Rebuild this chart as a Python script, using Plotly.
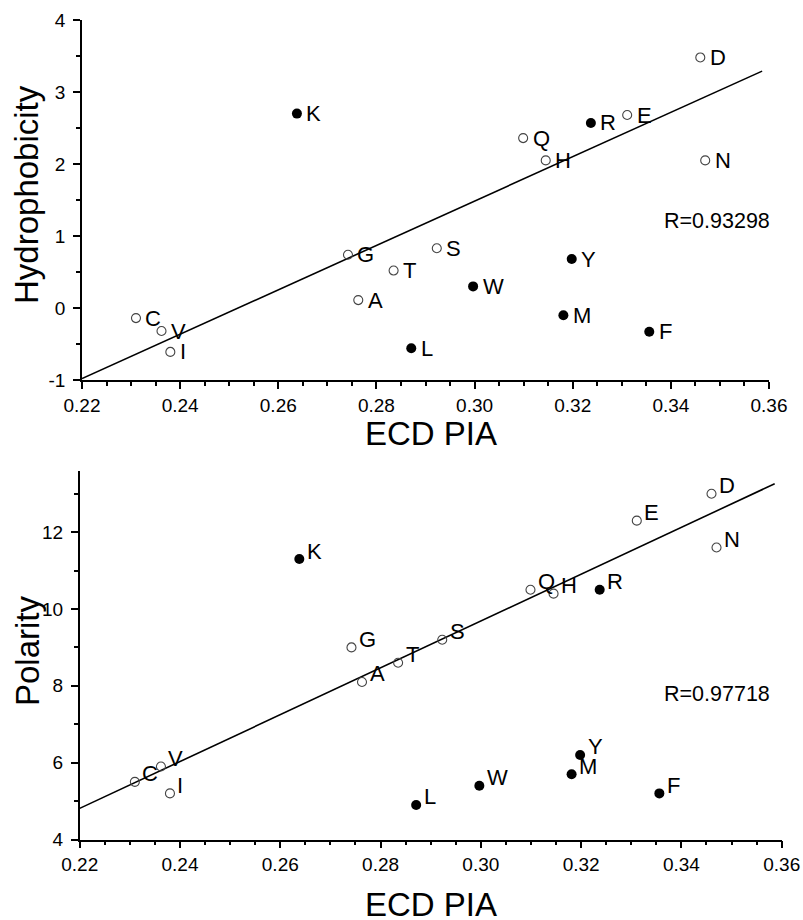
import plotly.graph_objects as go

# Amino acids and their ECD PIA values
residues = ["A", "R", "N", "D", "C", "Q", "E", "G", "H", "I",
            "L", "K", "M", "F", "S", "T", "W", "Y", "V"]
ecd_pia = [0.2763, 0.3237, 0.3470, 0.3460, 0.2310, 0.3099, 0.3311, 0.2742, 0.3145, 0.2380,
           0.2871, 0.2638, 0.3181, 0.3356, 0.2923, 0.2835, 0.2997, 0.3198, 0.2362]
hydrophobicity = [0.11, 2.57, 2.05, 3.48, -0.14, 2.36, 2.68, 0.74, 2.05, -0.61,
                  -0.56, 2.70, -0.10, -0.33, 0.83, 0.52, 0.30, 0.68, -0.32]
polarity = [8.1, 10.5, 11.6, 13.0, 5.5, 10.5, 12.3, 9.0, 10.4, 5.2,
            4.9, 11.3, 5.7, 5.2, 9.2, 8.6, 5.4, 6.2, 5.9]
filled_residues = ["R", "L", "K", "M", "F", "W", "Y"]

# Linear fits (end points)
fit_x = [0.22, 0.3586]
hydro_fit_y = [-0.98, 3.29]
polar_fit_y = [4.81, 13.26]
hydro_r = "R=0.93298"
polar_r = "R=0.97718"

x_ticks = [0.22, 0.24, 0.26, 0.28, 0.30, 0.32, 0.34, 0.36]
x_ticktext = ["0.22", "0.24", "0.26", "0.28", "0.30", "0.32", "0.34", "0.36"]
hydro_ticks = [-1, 0, 1, 2, 3, 4]
hydro_ticktext = ["-1", "0", "1", "2", "3", "4"]
polar_ticks = [4, 6, 8, 10, 12]
polar_ticktext = ["4", "6", "8", "10", "12"]

FONT = "Arial, Liberation Sans, sans-serif"
W, H = 803, 920

fig = go.Figure()

open_idx = [i for i, r in enumerate(residues) if r not in filled_residues]
fill_idx = [i for i, r in enumerate(residues) if r in filled_residues]


def add_panel(yvals, fit_y, xa, ya):
    fig.add_trace(go.Scatter(x=fit_x, y=fit_y, mode="lines",
                             line=dict(color="black", width=1.6),
                             xaxis=xa, yaxis=ya, showlegend=False, hoverinfo="skip"))
    fig.add_trace(go.Scatter(x=[ecd_pia[i] for i in open_idx], y=[yvals[i] for i in open_idx],
                             mode="markers",
                             marker=dict(symbol="circle-open", size=9, color="#444444",
                                         line=dict(width=1.1, color="#444444")),
                             xaxis=xa, yaxis=ya, showlegend=False))
    fig.add_trace(go.Scatter(x=[ecd_pia[i] for i in fill_idx], y=[yvals[i] for i in fill_idx],
                             mode="markers",
                             marker=dict(symbol="circle", size=10, color="black"),
                             xaxis=xa, yaxis=ya, showlegend=False))


add_panel(hydrophobicity, hydro_fit_y, "x", "y")
add_panel(polarity, polar_fit_y, "x2", "y2")

label_font = dict(family=FONT, size=22, color="black")
annotations = []
# residue labels: right of the marker on top panel, up-right on bottom panel
for r, xv, yv in zip(residues, ecd_pia, hydrophobicity):
    annotations.append(dict(x=xv, y=yv, xref="x", yref="y", text=r, showarrow=False,
                            xanchor="left", yanchor="middle", xshift=7.5, yshift=0,
                            font=label_font))
for r, xv, yv in zip(residues, ecd_pia, polarity):
    annotations.append(dict(x=xv, y=yv, xref="x2", yref="y2", text=r, showarrow=False,
                            xanchor="left", yanchor="middle", xshift=5.5, yshift=8,
                            font=label_font))

r_font = dict(family=FONT, size=21.5, color="black")
annotations.append(dict(x=0.3494, y=1.21, xref="x", yref="y", text=hydro_r, showarrow=False,
                        xanchor="center", yanchor="middle", font=r_font))
annotations.append(dict(x=0.3471, y=7.79, xref="x2", yref="y2", text=polar_r, showarrow=False,
                        xanchor="center", yanchor="middle", font=r_font))

# axis titles
title_font = dict(family=FONT, size=33, color="black")
annotations.append(dict(x=431 / W, y=1 - 433 / H, xref="paper", yref="paper", text="ECD PIA",
                        showarrow=False, xanchor="center", yanchor="middle", font=title_font))
annotations.append(dict(x=431 / W, y=1 - 904 / H, xref="paper", yref="paper", text="ECD PIA",
                        showarrow=False, xanchor="center", yanchor="middle", font=title_font))
annotations.append(dict(x=27 / W, y=1 - 195 / H, xref="paper", yref="paper", text="Hydrophobicity",
                        showarrow=False, textangle=-90, xanchor="center", yanchor="middle",
                        font=title_font))
annotations.append(dict(x=27 / W, y=1 - 651 / H, xref="paper", yref="paper", text="Polarity",
                        showarrow=False, textangle=-90, xanchor="center", yanchor="middle",
                        font=title_font))

axis_style = dict(showline=True, linecolor="black", linewidth=1.6, ticks="outside",
                  ticklen=7, tickwidth=1.5, tickcolor="black", showgrid=False,
                  zeroline=False, mirror=False, automargin=False,
                  tickfont=dict(family=FONT, size=19, color="black"))


def minor(t0, dt):
    return dict(ticks="outside", ticklen=4, tickwidth=1.5, tickcolor="black",
                tick0=t0, dtick=dt, showgrid=False)


fig.update_layout(
    template="none",
    width=W, height=H,
    margin=dict(l=0, r=0, t=0, b=0, pad=0, autoexpand=False),
    paper_bgcolor="white", plot_bgcolor="white",
    showlegend=False,
    annotations=annotations,
    xaxis=dict(domain=[82 / W, 769 / W], range=[0.22, 0.36], anchor="y",
               tickvals=x_ticks, ticktext=x_ticktext, minor=minor(0.22, 0.005),
               **axis_style),
    yaxis=dict(domain=[1 - 380 / H, 1 - 20 / H], range=[-1, 4], anchor="x",
               tickvals=hydro_ticks, ticktext=hydro_ticktext, ticklabelstandoff=4,
               minor=minor(-1, 0.5), **axis_style),
    xaxis2=dict(domain=[79.7 / W, 781.7 / W], range=[0.22, 0.36], anchor="y2",
                tickvals=x_ticks, ticktext=x_ticktext, minor=minor(0.22, 0.005),
                **axis_style),
    yaxis2=dict(domain=[1 - 839.5 / H, 1 - 470.7 / H], range=[4, 13.6], anchor="x2",
                tickvals=polar_ticks, ticktext=polar_ticktext, ticklabelstandoff=4,
                minor=minor(4, 1), **axis_style),
)

fig.write_html("out.html")
